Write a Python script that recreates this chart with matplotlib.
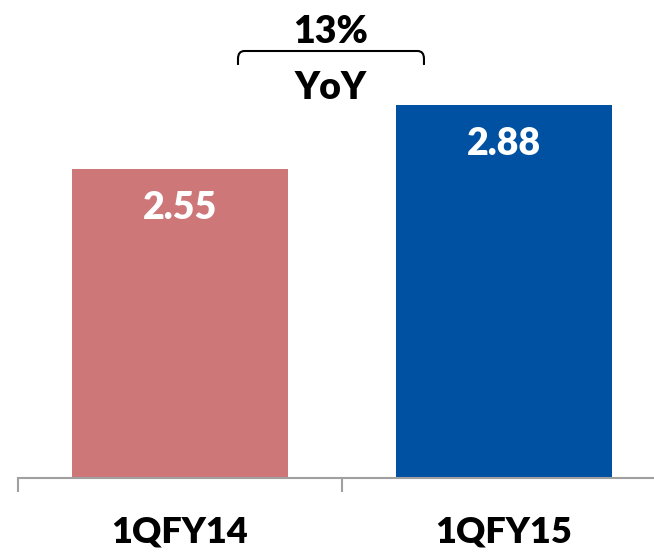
import numpy as np
import matplotlib.pyplot as plt
from matplotlib.path import Path
from matplotlib.patches import PathPatch

quarters = ["1QFY14", "1QFY15"]
values = [2.55, 2.88]
bar_colors = ["#CD7779", "#0051A2"]
growth_label = "13%"
growth_sub = "YoY"

plt.rcParams["font.family"] = ["Lato", "DejaVu Sans"]
plt.rcParams["font.weight"] = "bold"

fig = plt.figure(figsize=(6.54, 5.52), dpi=100)
ax = fig.add_axes([18 / 654, 74 / 552, 648 / 654, 478 / 552])

x = np.arange(len(quarters))
bars = ax.bar(x, values, width=0.667, color=bar_colors)
ax.set_xlim(-0.5, 1.5)
ax.set_ylim(0.956, 3.421)

# value labels inside the bars
for b, v in zip(bars, values):
    ax.annotate(f"{v:.2f}", (b.get_x() + b.get_width() / 2, v),
                xytext=(0, -28), textcoords="offset points",
                ha="center", va="center", color="white",
                fontsize=27, fontweight="heavy")

# axis styling
for s in ["top", "right", "left"]:
    ax.spines[s].set_visible(False)
ax.spines["bottom"].set_color("#A0A0A0")
ax.spines["bottom"].set_linewidth(1.5)
ax.set_yticks([])
ax.set_xticks(x)
ax.set_xticklabels(quarters, fontsize=26, fontweight="heavy")
ax.tick_params(axis="x", which="major", length=0, pad=27)
ax.set_xticks([-0.5, 0.5, 1.5], minor=True)
ax.tick_params(axis="x", which="minor", length=10, width=1.5, color="#A0A0A0")

# YoY bracket
x0, x1 = 0.179, 0.753
ytop, ybot = 3.158, 3.086
r = 0.02
verts = [(x0, ybot), (x0, ytop - 0.04), (x0, ytop), (x0 + r, ytop),
         (x1 - r, ytop), (x1, ytop), (x1, ytop - 0.04), (x1, ybot)]
codes = [Path.MOVETO, Path.LINETO, Path.CURVE3, Path.CURVE3,
         Path.LINETO, Path.CURVE3, Path.CURVE3, Path.LINETO]
ax.add_patch(PathPatch(Path(verts, codes), fill=False, lw=1.5,
                       edgecolor="black", clip_on=False))
xm = (x0 + x1) / 2
ax.text(xm, ytop + 0.01, growth_label, ha="center", va="bottom",
        fontsize=27, fontweight="heavy")
ax.text(xm, ytop - 0.105, growth_sub, ha="center", va="top",
        fontsize=27, fontweight="heavy")

fig.savefig("out.png", dpi=100)
